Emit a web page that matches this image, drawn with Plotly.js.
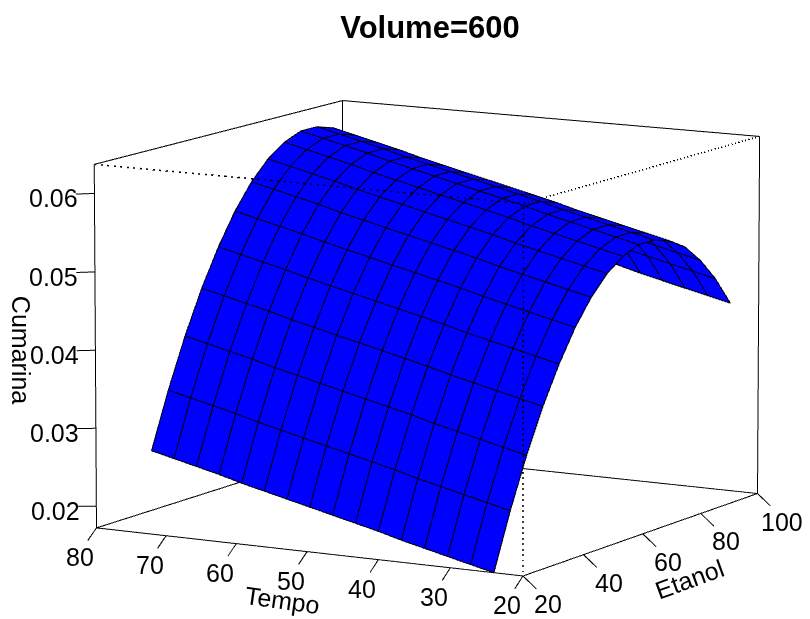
<!DOCTYPE html>
<html><head><meta charset="utf-8">
<script src="https://cdn.plot.ly/plotly-3.0.1.min.js"></script>
<style>html,body{margin:0;padding:0;background:#fff;overflow:hidden;width:810px;height:619px}#g{position:absolute;left:-2px;top:-3669px;width:864px;height:8000px}</style>
</head><body><div id="g"></div>
<script>
const etanol=[20,25.33,30.67,36,41.33,46.67,52,57.33,62.67,68,73.33,78.67,84,89.33,94.67,100];
const tempo=[24,27.2,30.4,33.6,36.8,40,43.2,46.4,49.6,52.8,56,59.2,62.4,65.6,68.8,72];
const cumarina=[
[.0172,.0243,.0306,.0361,.0408,.0448,.0480,.0504,.0520,.0529,.0529,.0522,.0508,.0485,.0455,.0417],
[.0179,.0250,.0313,.0368,.0415,.0455,.0487,.0511,.0527,.0536,.0536,.0529,.0515,.0492,.0462,.0424],
[.0186,.0257,.0320,.0375,.0422,.0462,.0494,.0518,.0534,.0543,.0543,.0536,.0522,.0499,.0469,.0431],
[.0193,.0264,.0327,.0382,.0429,.0469,.0501,.0525,.0541,.0550,.0550,.0543,.0529,.0506,.0476,.0438],
[.0200,.0271,.0334,.0389,.0436,.0476,.0508,.0532,.0548,.0557,.0557,.0550,.0536,.0513,.0483,.0445],
[.0208,.0279,.0342,.0397,.0444,.0484,.0516,.0540,.0556,.0565,.0565,.0558,.0544,.0521,.0491,.0453],
[.0215,.0286,.0349,.0404,.0451,.0491,.0523,.0547,.0563,.0572,.0572,.0565,.0551,.0528,.0498,.0460],
[.0222,.0293,.0356,.0411,.0458,.0498,.0530,.0554,.0570,.0579,.0579,.0572,.0558,.0535,.0505,.0467],
[.0229,.0300,.0363,.0418,.0465,.0505,.0537,.0561,.0577,.0586,.0586,.0579,.0565,.0542,.0512,.0474],
[.0236,.0307,.0370,.0425,.0472,.0512,.0544,.0568,.0584,.0593,.0593,.0586,.0572,.0549,.0519,.0481],
[.0243,.0314,.0377,.0432,.0479,.0519,.0551,.0575,.0591,.0600,.0600,.0593,.0579,.0556,.0526,.0488],
[.0250,.0321,.0384,.0439,.0486,.0526,.0558,.0582,.0598,.0607,.0607,.0600,.0586,.0563,.0533,.0495],
[.0258,.0329,.0392,.0447,.0494,.0534,.0566,.0590,.0606,.0615,.0615,.0608,.0594,.0571,.0541,.0503],
[.0265,.0336,.0399,.0454,.0501,.0541,.0573,.0597,.0613,.0622,.0622,.0615,.0601,.0578,.0548,.0510],
[.0272,.0343,.0406,.0461,.0508,.0548,.0580,.0604,.0620,.0629,.0629,.0622,.0608,.0585,.0555,.0517],
[.0279,.0350,.0413,.0468,.0515,.0555,.0587,.0611,.0627,.0636,.0636,.0629,.0615,.0592,.0562,.0524]
];
const tempoTicks=[20,30,40,50,60,70,80];
const etanolTicks=[20,40,60,80,100];
const zTicks=[0.02,0.03,0.04,0.05,0.06];
const zTickLabels=['0.02','0.03','0.04','0.05','0.06'];
const eMin=20,eMax=100,tMin=20,tMax=80,zMin=0.0172,zMax=0.0637;

function seg(pairs,dash,width){
  const x=[],y=[],z=[];
  pairs.forEach(p=>{x.push(p[0][0],p[1][0],null);y.push(p[0][1],p[1][1],null);z.push(p[0][2],p[1][2],null);});
  return {type:'scatter3d',mode:'lines',x,y,z,showlegend:false,hoverinfo:'skip',line:{color:'#000',width:width||2,dash:dash||'solid'}};
}
const A=[eMin,tMax,zMin],B=[eMin,tMin,zMin],C=[eMax,tMin,zMin],D=[eMax,tMax,zMin];
const A2=[eMin,tMax,zMax],B2=[eMin,tMin,zMax],C2=[eMax,tMin,zMax],D2=[eMax,tMax,zMax];
const viewDir=[-0.8549,-0.4893,0.173];
const lift=[viewDir[0]*4/6.07,viewDir[1]*4/8.1,viewDir[2]*4/7860];
const grid={x:[],y:[],z:[]};
function addPt(e,t,v){grid.x.push(e==null?null:e+lift[0]);grid.y.push(t==null?null:t+lift[1]);grid.z.push(v==null?null:v+lift[2]);}
tempo.forEach((t,j)=>{etanol.forEach((e,i)=>addPt(e,t,cumarina[j][i]));addPt(null,null,null);});
etanol.forEach((e,i)=>{tempo.forEach((t,j)=>addPt(e,t,cumarina[j][i]));addPt(null,null,null);});

const traces=[{
  type:'surface',x:etanol,y:tempo,z:cumarina,showscale:false,hoverinfo:'skip',
  colorscale:[[0,'#0000ff'],[1,'#0000ff']],
  lighting:{ambient:1,diffuse:0,specular:0,fresnel:0,roughness:1},
  contours:{x:{show:false,highlight:false},y:{show:false,highlight:false},z:{show:false,highlight:false}}
},
{type:'scatter3d',mode:'lines',x:grid.x,y:grid.y,z:grid.z,showlegend:false,hoverinfo:'skip',line:{color:'#000',width:2}},
seg([[A,B],[B,C],[A,D],[D,C],[A,A2],[C,C2],[D,D2],[A2,D2],[D2,C2]]),
seg([[A2,B2],[B2,C2],[B,B2]],'dot',3),
seg(tempoTicks.map(t=>[[eMin,t,zMin],[eMin-2.67,t,zMin-0.00125]])),
seg(etanolTicks.map(e=>[[e,tMin,zMin],[e,tMin-1.85,zMin-0.00144]])),
seg(zTicks.map(v=>[[eMin,tMax,v],[eMin,tMax+2.7,v-0.0003]]))
];
const font={family:'"Liberation Sans",Arial,sans-serif',size:25,color:'#000'};
const ann=[];
tempoTicks.forEach(t=>ann.push({x:eMin,y:t,z:zMin,text:String(t),showarrow:false,font,xshift:-16,yshift:-29}));
etanolTicks.forEach(e=>ann.push({x:e,y:tMin,z:zMin,text:String(e),showarrow:false,font,xshift:25,yshift:-28}));
zTicks.forEach((v,i)=>ann.push({x:eMin,y:tMax,z:v,text:zTickLabels[i],showarrow:false,font,xshift:-41,yshift:-5}));
ann.push({x:eMin,y:50,z:zMin,text:'Tempo',showarrow:false,font,textangle:8,xshift:-25,yshift:-48});
ann.push({x:60,y:tMin,z:zMin,text:'Etanol',showarrow:false,font,textangle:-20,xshift:47,yshift:-45});
ann.push({x:eMin,y:tMax,z:0.04,text:'Cumarina',showarrow:false,font,textangle:90,xshift:-75,yshift:0});
const hid={visible:false,showgrid:false,zeroline:false,showline:false,showticklabels:false,showspikes:false,showbackground:false,ticks:'',autorange:false};
const W=864,H=8000,offX=2,offY=3669;
const layout={
  width:W,height:H,margin:{l:0,r:0,t:0,b:0},paper_bgcolor:'#fff',showlegend:false,hovermode:false,
  title:{text:'<b>Volume=600</b>',x:(430+offX)/W,xanchor:'center',y:1-(27+offY)/H,yanchor:'middle',font:{family:'"Liberation Sans",Arial,sans-serif',size:31,color:'#000'}},
  scene:{
    domain:{x:[0,1],y:[0,1]},
    xaxis:{...hid,range:[10,110]},
    yaxis:{...hid,range:[10,90]},
    zaxis:{...hid,range:[0.01145,0.06945]},
    aspectmode:'manual',aspectratio:{x:1.0037,y:1.0706,z:0.754},
    camera:{projection:{type:'perspective'},eye:{x:-13.64,y:-7.81,z:2.76},up:{x:0,y:0,z:1},center:{x:0,y:0,z:0}},
    annotations:ann
  }
};
Plotly.newPlot('g',traces,layout,{displayModeBar:false,plotGlPixelRatio:1});
</script></body></html>
